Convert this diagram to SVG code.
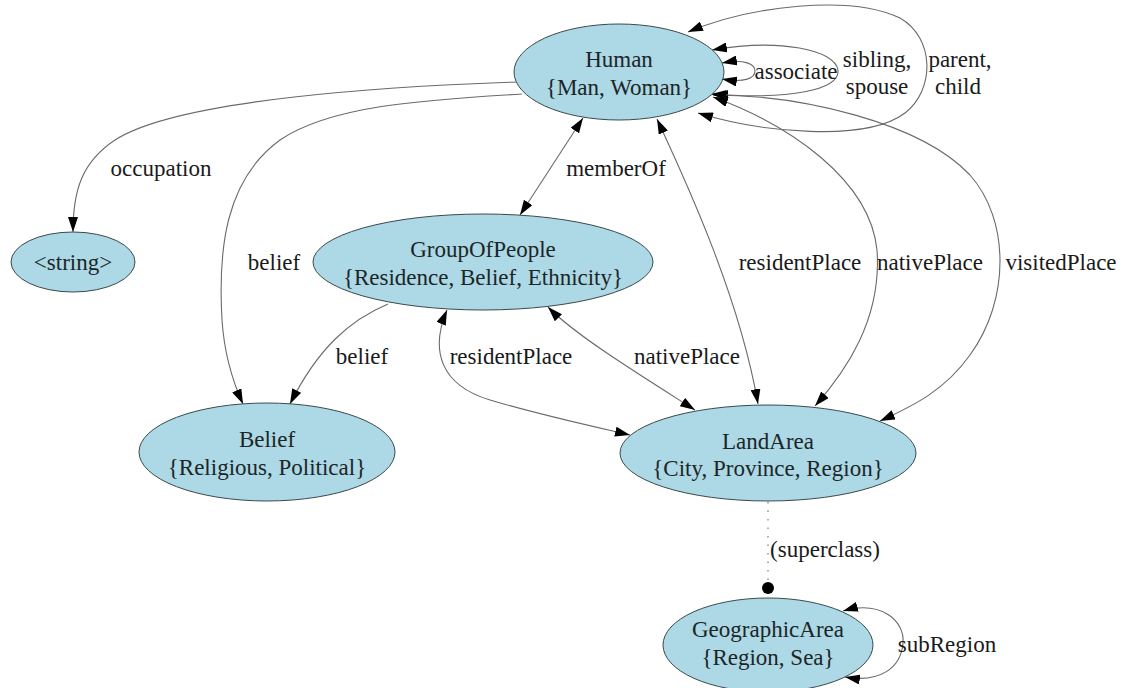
<svg xmlns="http://www.w3.org/2000/svg" width="1130" height="688" viewBox="0 0 1130 688">
<style>
.n ellipse{fill:#add8e6;stroke:#3a4a4a;stroke-width:1}
text{font-family:'Liberation Serif','DejaVu Serif','Times New Roman',serif;font-size:23px;fill:#1c2626;text-anchor:middle}
.e path{fill:none;stroke:#6a6a6a;stroke-width:1.1}
.e .b{marker-start:url(#ah);marker-end:url(#ah)}
.e .s{marker-end:url(#ah)}
.e .d{stroke-dasharray:1.5 7;marker-end:url(#dot)}
.lbl text{fill:#1a1a1a}
</style>
<defs>
<marker id="ah" markerUnits="userSpaceOnUse" markerWidth="15" markerHeight="10" refX="15" refY="5" orient="auto-start-reverse" viewBox="0 0 15 10"><path d="M0,0 L15,5 L0,10 z" fill="#000"/></marker>
<marker id="dot" markerUnits="userSpaceOnUse" markerWidth="14" markerHeight="14" refX="7" refY="7" viewBox="0 0 14 14"><circle cx="7" cy="7" r="6" fill="#000"/></marker>
</defs>
<rect width="1130" height="688" fill="#fff"/>
<g id="connectors" class="e">
<path class="s" d="M517,82 C400,86 180,98 115,140 C82,162 73,190 73,232"/>
<path class="s" d="M522,94 C420,100 330,106 280,140 C225,180 218,250 222,320 C224,350 232,380 243,404"/>
<path class="s" d="M388,304 C350,320 318,348 290,404"/>
<path class="b" d="M583,118 L520,215"/>
<path class="b" d="M657,119 C690,190 740,300 758,404"/>
<path class="b" d="M713,97 C790,125 870,180 877,250 C882,320 845,372 815,406"/>
<path class="b" d="M713,95 C800,95 920,122 970,175 C1010,220 1010,300 970,355 C945,390 915,405 880,421"/>
<path class="b" d="M688,32 C750,6 850,-6 900,18 C935,38 935,90 905,113 C865,143 760,132 698,113"/>
<path class="b" d="M712,50 C780,38 835,50 838,70 C840,90 790,100 711,94"/>
<path class="b" d="M722,63 C745,59 755,64 755,71 C755,78 745,83 722,79"/>
<path class="b" d="M447,310 C430,350 440,385 490,400 C540,415 600,428 630,435"/>
<path class="b" d="M548,307 C575,335 640,375 695,410"/>
<path class="d" d="M768,502 L768,588"/>
<path class="b" d="M843,611 C880,600 905,620 903,643 C901,668 880,683 845,677"/>
</g>
<g id="edge-labels" class="lbl">
<text x="161" y="176">occupation</text>
<text x="274" y="270">belief</text>
<text x="616" y="176">memberOf</text>
<text x="800" y="270">residentPlace</text>
<text x="930" y="270">nativePlace</text>
<text x="1061" y="270">visitedPlace</text>
<text x="362" y="364">belief</text>
<text x="511" y="364">residentPlace</text>
<text x="687" y="364">nativePlace</text>
<text x="825" y="557">(superclass)</text>
<text x="947" y="652">subRegion</text>
<text x="796" y="79">associate</text>
<text x="877" y="67">sibling,</text>
<text x="877" y="94">spouse</text>
<text x="960" y="67">parent,</text>
<text x="958" y="94">child</text>
</g>
<g id="Human" class="n"><ellipse cx="619" cy="72" rx="105" ry="48"/><text x="619" y="67">Human</text><text x="619" y="95">{Man, Woman}</text></g>
<g id="String" class="n"><ellipse cx="73" cy="262" rx="62" ry="30"/><text x="73" y="270">&lt;string&gt;</text></g>
<g id="GroupOfPeople" class="n"><ellipse cx="483" cy="262" rx="170" ry="48"/><text x="483" y="257">GroupOfPeople</text><text x="483" y="285">{Residence, Belief, Ethnicity}</text></g>
<g id="Belief" class="n"><ellipse cx="267" cy="452" rx="128" ry="49"/><text x="267" y="447">Belief</text><text x="267" y="475">{Religious, Political}</text></g>
<g id="LandArea" class="n"><ellipse cx="768" cy="453" rx="148" ry="48"/><text x="768" y="449">LandArea</text><text x="768" y="476">{City, Province, Region}</text></g>
<g id="GeographicArea" class="n"><ellipse cx="768" cy="645" rx="105" ry="47"/><text x="768" y="637">GeographicArea</text><text x="768" y="665">{Region, Sea}</text></g>
</svg>
